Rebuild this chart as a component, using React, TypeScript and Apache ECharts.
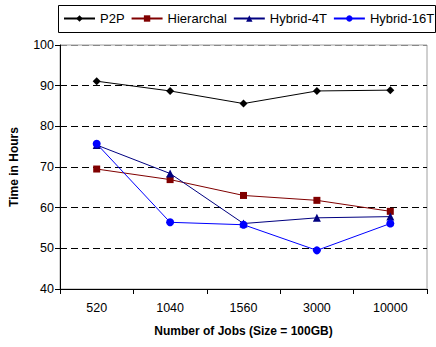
import React, { useEffect, useRef } from "react";
import * as echarts from "echarts";

const categories = ["520", "1040", "1560", "3000", "10000"];
const p2p = [91.1, 88.7, 85.6, 88.7, 88.9];
const hierarchal = [69.5, 66.9, 63.0, 61.8, 59.1];
const hybrid4T = [75.4, 68.4, 56.1, 57.5, 57.8];
const hybrid16T = [75.7, 56.4, 55.8, 49.5, 56.1];

const font = "'Liberation Sans', Arial, sans-serif";

export default function App() {
  const ref = useRef<HTMLDivElement>(null);
  useEffect(() => {
    if (!ref.current) return;
    const chart = echarts.init(ref.current, null, { renderer: "svg" });
    const mk = (name: string, data: number[], color: string, symbol: string, size: number) => ({
      name,
      type: "line",
      data,
      symbol,
      symbolSize: size,
      itemStyle: { color },
      lineStyle: { color, width: 1 },
    });
    chart.setOption({
      animation: false,
      textStyle: { fontFamily: font },
      graphic: [
        {
          type: "rect",
          shape: { x: 58.5, y: 5.5, width: 377, height: 27 },
          style: { fill: "#fff", stroke: "#000", lineWidth: 1 },
          z: -1,
        },
      ],
      legend: {
        left: 58,
        top: 5,
        padding: [7, 0, 0, 5],
        itemWidth: 31,
        itemHeight: 8,
        itemGap: 6,
        textStyle: { fontFamily: font, fontSize: 13, color: "#000" },
        data: ["P2P", "Hierarchal", "Hybrid-4T", "Hybrid-16T"],
      },
      grid: {
        left: 60,
        right: 9,
        top: 45,
        bottom: 58,
        show: true,
        borderColor: "#a0a0a0",
        borderWidth: 1,
      },
      xAxis: {
        type: "category",
        data: categories,
        boundaryGap: true,
        name: "Number of Jobs (Size = 100GB)",
        nameLocation: "middle",
        nameGap: 36,
        nameTextStyle: { fontFamily: font, fontSize: 12, fontWeight: "bold", color: "#000" },
        axisLine: { lineStyle: { color: "#000", width: 1 } },
        axisTick: { show: true, length: 5, alignWithLabel: false, lineStyle: { color: "#000" } },
        axisLabel: { fontFamily: font, fontSize: 12.5, color: "#000", margin: 12 },
      },
      yAxis: {
        type: "value",
        min: 40,
        max: 100,
        interval: 10,
        name: "Time in Hours",
        nameLocation: "middle",
        nameGap: 40,
        nameTextStyle: { fontFamily: font, fontSize: 12, fontWeight: "bold", color: "#000" },
        axisLine: { show: true, lineStyle: { color: "#000", width: 1 } },
        axisTick: { show: true, length: 5, lineStyle: { color: "#000" } },
        axisLabel: { fontFamily: font, fontSize: 12.5, color: "#000", margin: 6 },
        splitLine: {
          show: true,
          lineStyle: {
            type: [7, 4],
            width: 1,
            color: ["#000", "#000", "#000", "#000", "#000", "#000", "#888"],
          },
        },
      },
      series: [
        mk("P2P", p2p, "#000000", "diamond", 8),
        mk("Hierarchal", hierarchal, "#800000", "rect", 7),
        mk("Hybrid-4T", hybrid4T, "#000080", "triangle", 8),
        mk("Hybrid-16T", hybrid16T, "#0000ff", "circle", 8),
      ],
    });
    return () => chart.dispose();
  }, []);
  return <div ref={ref} style={{ width: 436, height: 347, position: "absolute", left: 0, top: 0 }} />;
}
